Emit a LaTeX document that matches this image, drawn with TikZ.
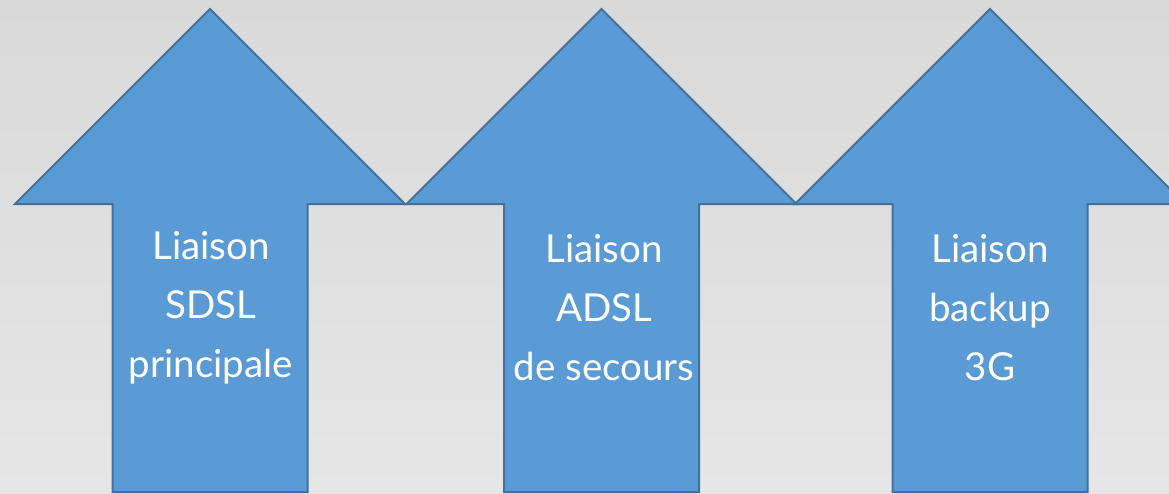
\documentclass[tikz,border=0pt]{standalone}
\usepackage{fontspec}
\setmainfont{Lato}
\definecolor{arrowfill}{HTML}{5B9BD5}
\definecolor{arrowline}{HTML}{41719C}
\definecolor{bgtop}{HTML}{D9D9D9}
\definecolor{bgbot}{HTML}{E6E6E6}
\begin{document}
\begin{tikzpicture}[x=1pt,y=-1pt,
  uparrow/.style={fill=arrowfill,draw=arrowline,line width=2pt,line join=miter},
  label/.style={text=white,align=center,font=\fontsize{38.5}{59}\selectfont,inner sep=0pt}]
\useasboundingbox (0,0) rectangle (1169,493);
\clip (0,0) rectangle (1169,493);
\shade[top color=bgtop,bottom color=bgbot] (0,0) rectangle (1169,493);
% arrows: center, tip y=9, base y=204, head half 195, shaft half 97.5
\foreach \c in {210,601.5,990}{
  \draw[uparrow] (\c,9) -- (\c+195,204) -- (\c+97.5,204) -- (\c+97.5,492)
     -- (\c-97.5,492) -- (\c-97.5,204) -- (\c-195,204) -- cycle;
}
\node[label] (t1) at (211,308) {Liaison\\SDSL\\principale};
\node[label] (t2) at (604,308) {Liaison\\ADSL\\de secours};
\node[label] (t3) at (990,308) {Liaison\\backup\\3G};
\end{tikzpicture}
\end{document}
